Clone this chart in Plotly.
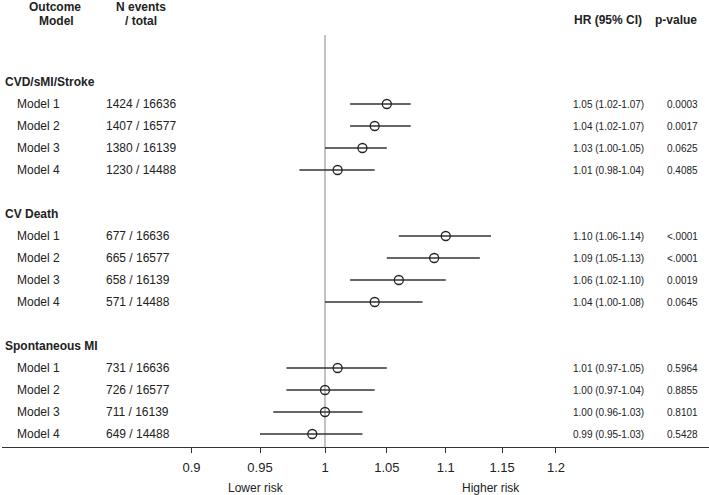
import plotly.graph_objects as go

# ---- data ----
groups = ["CVD/sMI/Stroke", "CV Death", "Spontaneous MI"]
models = ["Model 1", "Model 2", "Model 3", "Model 4"]
n_events = [[1424, 1407, 1380, 1230], [677, 665, 658, 571], [731, 726, 711, 649]]
n_total = [[16636, 16577, 16139, 14488], [16636, 16577, 16139, 14488], [16636, 16577, 16139, 14488]]
hr = [[1.05, 1.04, 1.03, 1.01], [1.10, 1.09, 1.06, 1.04], [1.01, 1.00, 1.00, 0.99]]
hr_lo = [[1.02, 1.02, 1.00, 0.98], [1.06, 1.05, 1.02, 1.00], [0.97, 0.97, 0.96, 0.95]]
hr_hi = [[1.07, 1.07, 1.05, 1.04], [1.14, 1.13, 1.10, 1.08], [1.05, 1.04, 1.03, 1.03]]
p_values = [["0.0003", "0.0017", "0.0625", "0.4085"],
            ["<.0001", "<.0001", "0.0019", "0.0645"],
            ["0.5964", "0.8855", "0.8101", "0.5428"]]
tick_vals = [0.9, 0.95, 1, 1.05, 1.1, 1.15, 1.2]
tick_text = ["0.9", "0.95", "1", "1.05", "1.1", "1.15", "1.2"]

# ---- layout geometry (pixels) ----
W, H = 709, 495
ML, MR, MT, MB = 2, 0, 35, 48
PW = W - ML - MR
PH = H - MT - MB
ROW0, ROWH = 82, 22  # pixel y of first row, row spacing
y_top = (MT - ROW0) / ROWH
y_bot = (H - MB - ROW0) / ROWH

FONT = "Liberation Sans, Arial, Helvetica, sans-serif"
TXT = "#222222"


def px(xp):
    return (xp - ML) / PW


def py(yp):
    return (H - MB - yp) / PH


xs, ys, eplus, eminus = [], [], [], []
annotations = []
for g, gname in enumerate(groups):
    base = g * 6
    annotations.append(dict(x=px(3), y=base, xref="paper", yref="y", text="<b>%s</b>" % gname,
                            xanchor="left", yanchor="middle", showarrow=False,
                            font=dict(size=12, color=TXT, family=FONT)))
    for m, mname in enumerate(models):
        r = base + 1 + m
        xs.append(hr[g][m])
        ys.append(r)
        eplus.append(hr_hi[g][m] - hr[g][m])
        eminus.append(hr[g][m] - hr_lo[g][m])
        annotations.append(dict(x=px(15), y=r, xref="paper", yref="y", text=mname,
                                xanchor="left", yanchor="middle", showarrow=False,
                                font=dict(size=12, color=TXT, family=FONT)))
        annotations.append(dict(x=px(104), y=r, xref="paper", yref="y",
                                text="%d / %d" % (n_events[g][m], n_total[g][m]),
                                xanchor="left", yanchor="middle", showarrow=False,
                                font=dict(size=12, color=TXT, family=FONT)))
        annotations.append(dict(x=px(571), y=r, xref="paper", yref="y",
                                text="%.2f (%.2f-%.2f)" % (hr[g][m], hr_lo[g][m], hr_hi[g][m]),
                                xanchor="left", yanchor="middle", showarrow=False,
                                font=dict(size=10, color=TXT, family=FONT)))
        annotations.append(dict(x=px(665), y=r, xref="paper", yref="y", text=p_values[g][m],
                                xanchor="left", yanchor="middle", showarrow=False,
                                font=dict(size=10, color=TXT, family=FONT)))

headers = [("<b>Outcome</b>", 55, 7), ("<b>Model</b>", 56, 21),
           ("<b>N events</b>", 141, 7), ("<b>/ total</b>", 141, 21),
           ("<b>HR (95% CI)</b>", 608, 20), ("<b>p-value</b>", 676, 20),
           ("Lower risk", 256, 488), ("Higher risk", 491, 488)]
for t, xp, yp in headers:
    annotations.append(dict(x=px(xp), y=py(yp), xref="paper", yref="paper", text=t,
                            xanchor="center", yanchor="middle", showarrow=False,
                            font=dict(size=12, color=TXT, family=FONT)))

fig = go.Figure()
# reference line at HR = 1
fig.add_trace(go.Scatter(x=[1, 1], y=[y_top, y_bot], mode="lines",
                         line=dict(color="#9a9a9a", width=1.2), hoverinfo="skip",
                         showlegend=False))
fig.add_trace(go.Scatter(
    x=xs, y=ys, mode="markers",
    marker=dict(symbol="circle-open", size=9, color="#222222", line=dict(width=1.3, color="#222222")),
    error_x=dict(type="data", symmetric=False, array=eplus, arrayminus=eminus,
                 width=0, thickness=1.4, color="#333333"),
    showlegend=False))

x_left = -0.11073
x_right = 0.13164

fig.update_layout(
    width=W, height=H,
    margin=dict(l=ML, r=MR, t=MT, b=MB, pad=0),
    paper_bgcolor="white", plot_bgcolor="white",
    font=dict(family=FONT, color=TXT),
    annotations=annotations,
    xaxis=dict(type="log", range=[x_left, x_right], tickvals=tick_vals, ticktext=tick_text,
               ticks="outside", ticklen=5, tickwidth=1.2, tickcolor="#333333",
               showline=True, linecolor="#333333", linewidth=1.4,
               showgrid=False, zeroline=False, tickfont=dict(size=13, color=TXT, family=FONT),
               ticklabelstandoff=3),
    yaxis=dict(range=[y_bot, y_top], visible=False, showgrid=False, zeroline=False),
)

fig.write_html("out.html", config={"displayModeBar": False},
               post_script="document.body.style.margin='0';document.body.style.overflow='hidden';")
